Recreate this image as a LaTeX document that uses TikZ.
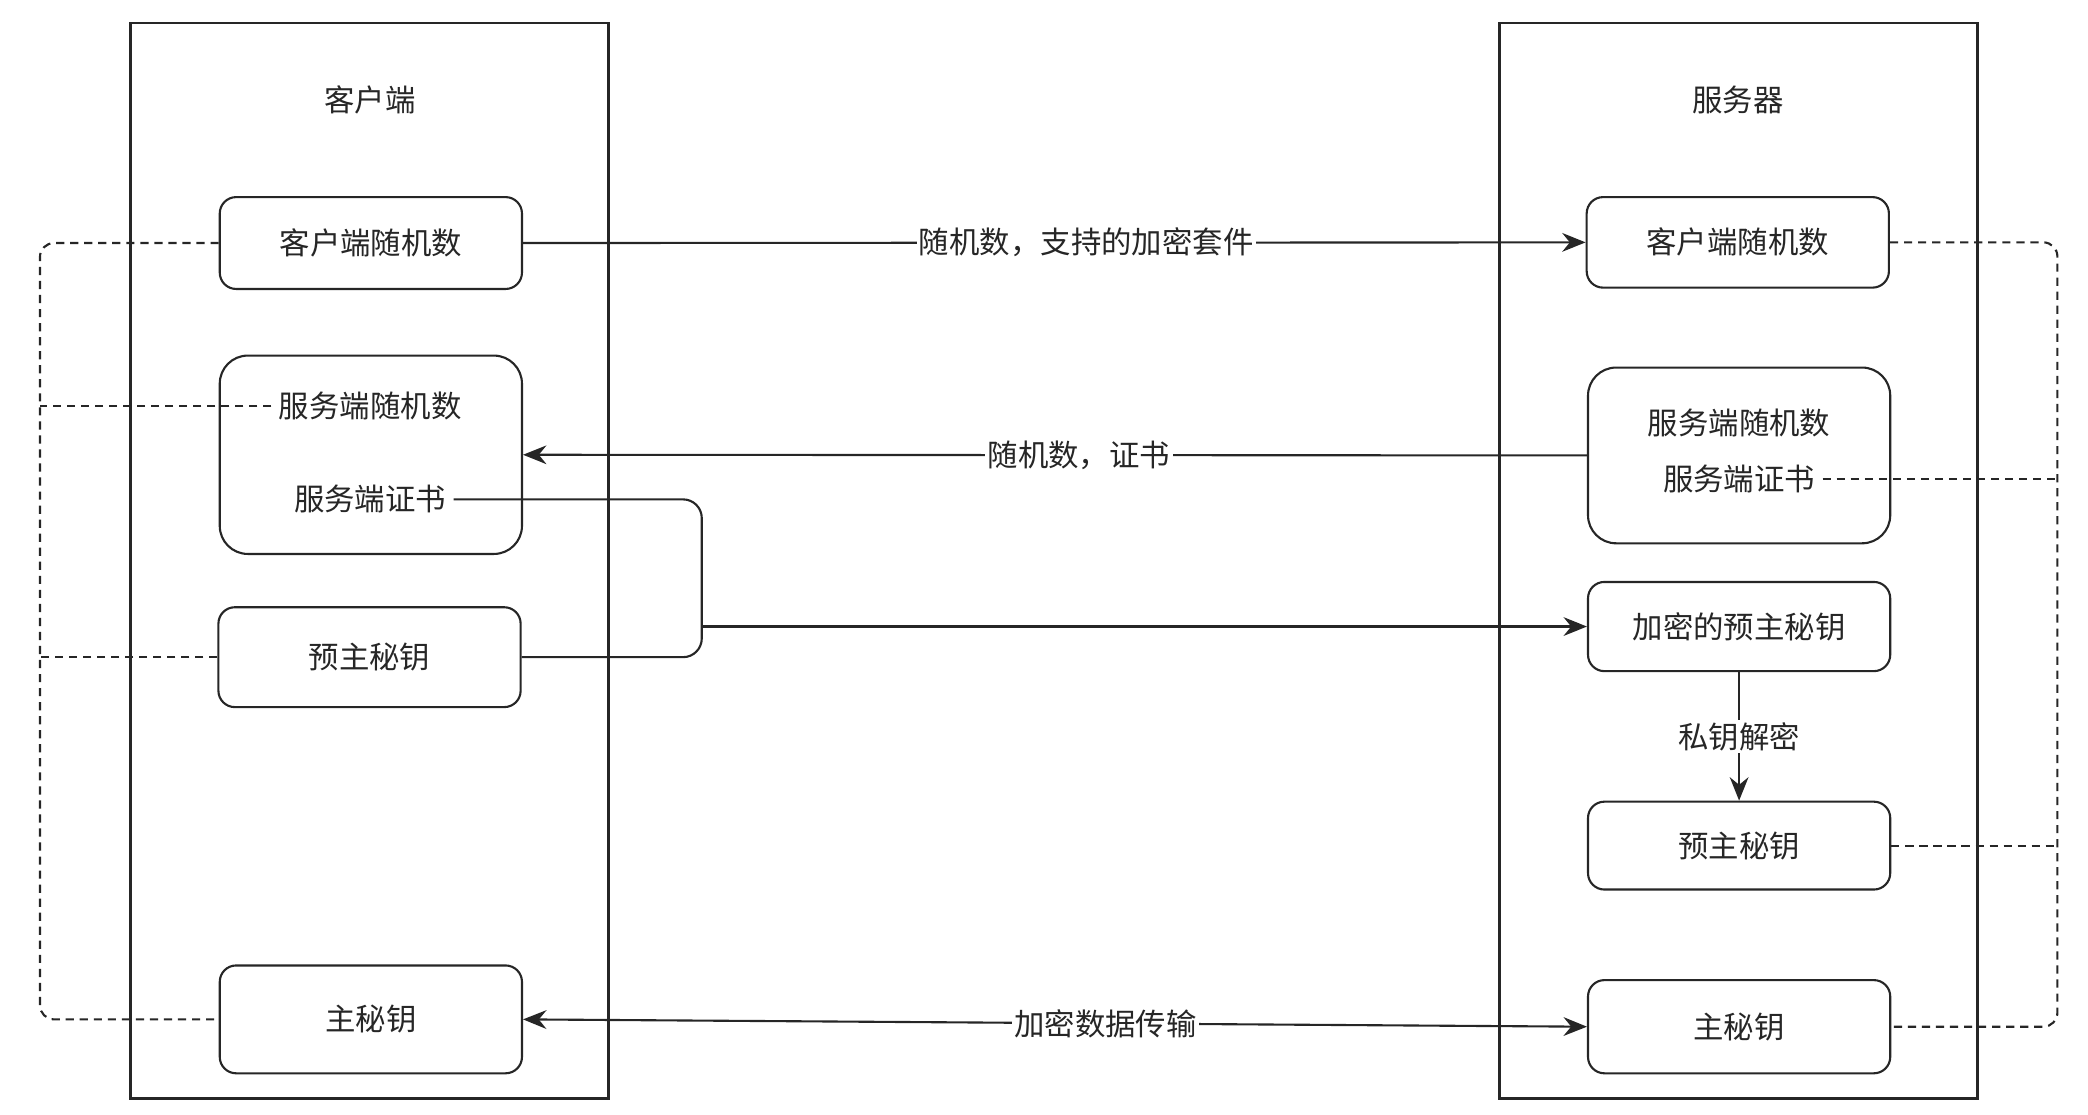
\documentclass[tikz,border=0pt]{standalone}
\usepackage{fontspec}
\newfontfamily\cjk{Noto Sans CJK SC}
\usepackage{tikz}
\usetikzlibrary{positioning,arrows.meta,calc}

\begin{document}
\begin{tikzpicture}[
      x=0.02cm, y=-0.02cm,
      >={Stealth[length=10pt,width=8pt]},
      font=\cjk\fontsize{13}{15}\selectfont,
      text=black!85
    ]

    \tikzstyle{side} = [rectangle, draw=black!85, line width=0.9pt, minimum width=7.18cm, minimum height=16.16cm]
    \tikzstyle{box} = [rectangle, rounded corners=7pt, draw=black!85, line width=0.9pt, minimum width=4.54cm, fill=white]
    \tikzstyle{bigbox} = [box, rounded corners=12pt]
    \tikzstyle{txt} = [inner sep=3pt]
    \tikzstyle{link} = [line width=0.9pt, draw=black!85]
    \tikzstyle{dots} = [line width=0.9pt, draw=black!85, dash pattern=on 3.5pt off 2.5pt]
    \tikzstyle{tag} = [fill=white, inner sep=1pt]

    \useasboundingbox (0,0) rectangle (1568,836.6);

    % client and server
    \node [side] (client) at (277.5,421) {};
    \node [side] (server) at (1305.5,421) {};
    \node (ctitle) at (278,75) {客户端};
    \node (stitle) at (1305,75) {服务器};

    % client side
    \node [box, minimum height=1.38cm] (lcr) at (278.5,182.5) {客户端随机数};
    \node [bigbox, minimum height=2.98cm] (lsrv) at (278.5,341.5) {};
    \node [txt] (lsrand) at (278,305) {服务端随机数};
    \node [txt] (lcert) at (278,375) {服务端证书};
    \node [box, minimum height=1.5cm] (lpre) at (277.5,493.5) {预主秘钥};
    \node [box, minimum height=1.62cm] (lmaster) at (278.5,765.5) {主秘钥};

    % server side
    \node [box, minimum height=1.36cm] (rcr) at (1305,182) {客户端随机数};
    \node [bigbox, minimum height=2.64cm] (rsrv) at (1306,342) {};
    \node [txt] (rsrand) at (1306,318) {服务端随机数};
    \node [txt] (rcert) at (1306,360) {服务端证书};
    \node [box, minimum height=1.34cm] (renc) at (1306,470.5) {加密的预主秘钥};
    \node [box, minimum height=1.32cm] (rpre) at (1306,635) {预主秘钥};
    \node [box, minimum height=1.4cm] (rmaster) at (1306,771) {主秘钥};

    \coordinate (bend) at (527,0);
    \coordinate (lrail) at (30,0);
    \coordinate (rrail) at (1545,0);

    % messages
    \draw [link, ->] (lcr.east) -- (rcr.west) node [tag, pos=0.53] {随机数，支持的加密套件};
    \draw [link, ->] (rsrv.west) -- (lsrv.east) node [tag, pos=0.4775] {随机数，证书};
    \draw [link, rounded corners=8pt] (lcert.east) -| (bend |- lpre) -- (lpre.east);
    \draw [link, ->] (bend |- renc) -- (renc.west);
    \draw [link, ->] (renc.south) -- (rpre.north) node [tag, midway] {私钥解密};
    \draw [link, <->] (lmaster.east) -- (rmaster.west) node [tag, pos=0.5475] {加密数据传输};

    % dashed rails
    \draw [dots, rounded corners=6pt] (lcr.west) -| (lrail |- lmaster) -- (lmaster.west);
    \draw [dots] (lsrand.west) -- (lrail |- lsrand);
    \draw [dots] (lpre.west) -- (lrail |- lpre);

    \draw [dots, rounded corners=6pt] (rcr.east) -| (rrail |- rmaster) -- (rmaster.east);
    \draw [dots] (rcert.east) -- (rrail |- rcert);
    \draw [dots] (rpre.east) -- (rrail |- rpre);

\end{tikzpicture}
\end{document}
